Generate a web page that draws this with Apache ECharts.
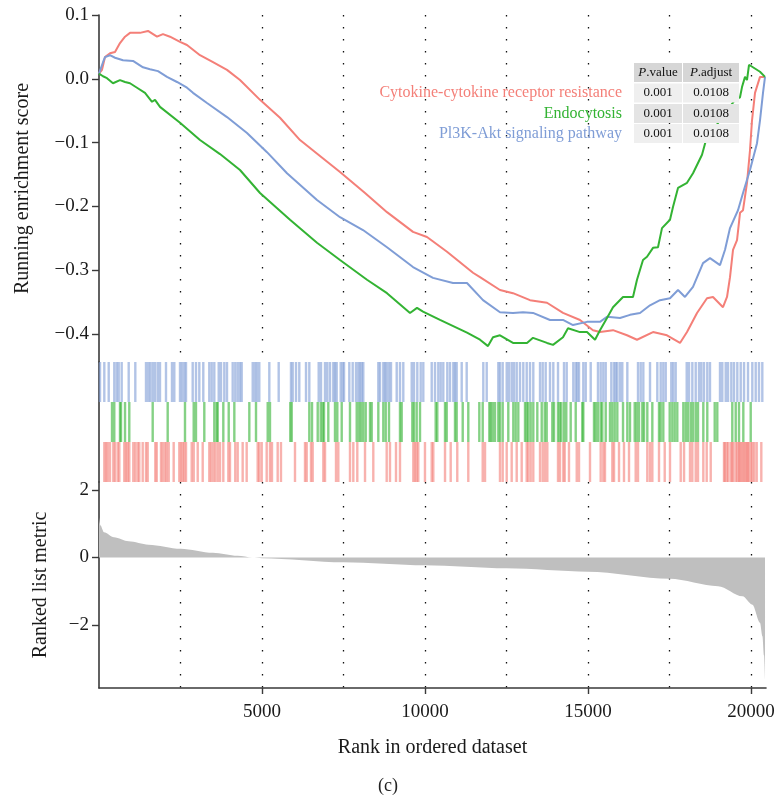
<!DOCTYPE html>
<html>
<head>
<meta charset="utf-8">
<script src="https://cdn.jsdelivr.net/npm/echarts@6/dist/echarts.min.js"></script>
<style>
html,body{margin:0;padding:0;background:#fff;}
#chart{width:775px;height:797px;}
</style>
</head>
<body>
<div id="chart"></div>
<script>
// ---------- data ----------
const setNames = ['Cytokine-cytokine receptor resistance', 'Endocytosis', 'Pl3K-Akt signaling pathway'];
const pValues = ['0.001', '0.001', '0.001'];
const pAdjust = ['0.0108', '0.0108', '0.0108'];
const xTickLabels = [5000, 10000, 15000, 20000];
const esTicks = [-0.4, -0.3, -0.2, -0.1, 0, 0.1];
const metricTicks = [-2, 0, 2];

const esRed = [[0,0.008],[92,0.014],[184,0.034],[337,0.040],[491,0.042],[644,0.056],[798,0.066],[951,0.072],[1258,0.072],[1503,0.075],[1779,0.066],[1963,0.070],[2178,0.066],[2485,0.058],[2699,0.053],[3098,0.037],[3497,0.026],[3926,0.014],[4325,-0.002],[4939,-0.033],[5552,-0.061],[6166,-0.096],[6779,-0.121],[7393,-0.146],[8160,-0.179],[8834,-0.209],[9632,-0.240],[10061,-0.248],[10675,-0.271],[11472,-0.304],[11687,-0.311],[12300,-0.331],[12699,-0.336],[13221,-0.347],[13742,-0.351],[14233,-0.367],[14755,-0.378],[15153,-0.394],[15368,-0.397],[15767,-0.394],[16196,-0.402],[16503,-0.409],[16994,-0.397],[17423,-0.402],[17822,-0.414],[18037,-0.397],[18344,-0.367],[18650,-0.344],[18834,-0.342],[19141,-0.358],[19264,-0.342],[19356,-0.311],[19448,-0.268],[19571,-0.253],[19663,-0.210],[19755,-0.206],[19877,-0.163],[19969,-0.112],[20031,-0.065],[20123,-0.022],[20276,0.003],[20430,0.003]];

const esBlue = [[0,0.008],[123,0.026],[184,0.034],[337,0.037],[491,0.033],[736,0.029],[1043,0.028],[1350,0.018],[1564,0.015],[1810,0.012],[2086,0.003],[2393,-0.005],[2699,-0.014],[2883,-0.022],[3313,-0.038],[3926,-0.060],[4540,-0.085],[5153,-0.115],[5767,-0.148],[6687,-0.190],[7393,-0.217],[8098,-0.237],[8834,-0.264],[9632,-0.295],[10245,-0.312],[10859,-0.320],[11288,-0.320],[11779,-0.347],[12300,-0.366],[12699,-0.367],[13006,-0.366],[13313,-0.367],[13834,-0.378],[14233,-0.378],[14540,-0.386],[14969,-0.381],[15368,-0.381],[15583,-0.373],[15982,-0.375],[16288,-0.370],[16595,-0.367],[16902,-0.355],[17209,-0.347],[17515,-0.344],[17761,-0.331],[17975,-0.342],[18221,-0.326],[18528,-0.289],[18742,-0.281],[19049,-0.292],[19203,-0.268],[19356,-0.234],[19601,-0.206],[19755,-0.179],[19969,-0.143],[20184,-0.101],[20276,-0.065],[20368,-0.022],[20430,0.003]];

const esGreen = [[0,0.008],[123,0.004],[245,0.001],[429,-0.007],[644,-0.002],[798,-0.005],[951,-0.007],[1166,-0.014],[1411,-0.022],[1626,-0.036],[1718,-0.033],[1871,-0.044],[2485,-0.069],[3098,-0.096],[3712,-0.118],[4325,-0.143],[4939,-0.179],[5859,-0.221],[6687,-0.257],[7393,-0.284],[8221,-0.315],[8834,-0.336],[9540,-0.367],[9755,-0.359],[9939,-0.365],[10460,-0.378],[11288,-0.398],[11687,-0.409],[11932,-0.419],[12086,-0.405],[12300,-0.402],[12699,-0.414],[13129,-0.414],[13313,-0.406],[13742,-0.414],[13926,-0.417],[14233,-0.405],[14387,-0.391],[14755,-0.397],[14969,-0.397],[15215,-0.409],[15368,-0.394],[15583,-0.375],[15767,-0.358],[16074,-0.342],[16380,-0.342],[16503,-0.315],[16687,-0.284],[16810,-0.279],[16994,-0.265],[17147,-0.264],[17270,-0.234],[17515,-0.221],[17607,-0.201],[17761,-0.171],[18037,-0.163],[18221,-0.148],[18497,-0.119],[18620,-0.096],[19049,-0.065],[19509,-0.033],[19663,-0.029],[19724,-0.013],[19816,0.003],[19877,-0.002],[19939,0.022],[20000,0.025],[20276,0.011],[20430,0.003]];

const hitsBlue = [31,163,298,469,543,604,696,911,1114,1442,1512,1574,1647,1718,1801,1871,2055,2239,2310,2485,2546,2617,2669,2874,2975,3077,3199,3383,3457,3537,3672,3742,3844,3926,4101,4180,4254,4325,4377,4715,4785,4847,4917,5224,5512,5889,5942,6043,6144,6350,6451,6739,6810,6933,7003,7086,7187,7239,7291,7414,7475,7516,7678,7782,7883,7954,8006,8058,8107,8568,8620,8721,8773,8825,8896,8957,9132,9233,9334,9592,9662,9764,9868,9948,10206,10307,10408,10482,10561,10684,10767,10868,10920,10972,11126,11279,11788,11893,12249,12300,12383,12506,12576,12659,12730,12813,12914,13015,13120,13221,13322,13528,13610,13702,13834,13936,14080,14264,14347,14549,14623,14672,14724,14856,14930,15083,15306,15389,15469,15543,15715,15798,15850,15899,15982,16052,16206,16534,16617,16697,16902,17126,17230,17310,17384,17555,17617,17690,18028,18098,18200,18304,18405,18476,18558,18659,18742,19049,19120,19224,19295,19396,19479,19580,19684,19786,19908,20040,20144,20245,20347];

const hitsGreen = [399,469,644,675,798,929,1647,2107,2638,2905,2975,3230,3537,3610,3641,3813,3979,4151,4611,4816,5175,5245,5868,5911,6451,6534,6709,6801,6862,6902,7034,7239,7310,7445,7699,7905,7976,8037,8107,8181,8313,8365,8568,8721,8795,8896,9233,9285,9611,9662,9745,9847,10328,10377,10614,10666,10920,10972,11157,11328,11666,11770,11973,12016,12077,12147,12249,12300,12383,12555,12709,12782,12862,13068,13120,13169,13242,13322,13445,13580,13672,13733,13905,13957,14080,14132,14181,14264,14334,14469,14623,14825,14856,15184,15236,15306,15389,15438,15543,15675,15746,15819,15899,16074,16206,16288,16433,16494,16564,16666,16718,16819,16973,17178,17230,17310,17506,17586,17660,17739,17924,17997,18068,18151,18221,18304,18374,18537,18659,18887,18966,19426,19531,19632,19764,19991];

const hitsRed = [163,215,267,337,439,491,574,623,776,828,880,929,1052,1114,1187,1236,1341,1442,1494,1727,1770,1902,1954,2024,2076,2138,2291,2463,2515,2567,2617,2669,2843,2905,3028,3181,3383,3435,3506,3568,3641,3712,3813,3967,4018,4180,4254,4407,4530,4868,4917,4991,5144,5245,5306,5481,5582,6012,6319,6371,6503,6555,6881,6933,7270,7341,7699,7801,7923,8160,8414,8825,8926,9110,9233,9641,9693,9745,9794,9999,10206,10255,10614,10788,10990,11328,11770,11841,12300,12383,12506,12659,12813,12966,13120,13169,13242,13322,13528,13610,13681,13752,14080,14141,14243,14285,14417,14654,14724,15061,15389,15469,15521,15746,15798,15951,16104,16258,16463,16534,16819,16902,16973,17178,17353,17515,17844,17946,18129,18200,18304,18374,18537,18641,18764,19172,19200,19255,19300,19377,19420,19457,19531,19580,19632,19650,19703,19740,19786,19830,19868,19900,19939,20000,20040,20100,20175,20316];

const metricRank = [0,46,153,460,911,1518,2506,3494,4252,4700,5000,7500,10000,12500,15000,17500,18990,19740,20045,20275,20350,20400,20430];
const metricValue = [1.19,0.95,0.75,0.60,0.48,0.38,0.26,0.14,0.05,0,-0.02,-0.14,-0.23,-0.32,-0.42,-0.63,-0.85,-1.15,-1.40,-1.93,-2.33,-2.90,-3.60];

// ---------- styles ----------
const colors = ['#f47f78', '#33b333', '#7f9dd6'];
const FONT = '"Liberation Serif", "DejaVu Serif", serif';
const XMAX = 20460;
const axisCol = '#3a3a3a';
const fmtMinus = v => String(v).replace('-', '\u2212');

const chart = echarts.init(document.getElementById('chart'), null, {renderer: 'canvas'});

const dotted = {show: true, showMinLine: false, showMaxLine: false,
  lineStyle: {type: [1.4, 10.6], color: '#111', width: 1.3}};
const hiddenParts = {axisLine: {show: false}, axisTick: {show: false}, axisLabel: {show: false}};

function rugSeries(hits, row, color) {
  return {
    type: 'custom', xAxisIndex: 1, yAxisIndex: 1, silent: true,
    data: hits.map(r => [r, row]),
    renderItem: function (params, api) {
      const x = api.value(0), rw = api.value(1);
      const top = api.coord([x, rw + 1]);
      const bot = api.coord([x, rw]);
      return {type: 'rect', shape: {x: top[0] - 1.2, y: top[1], width: 2.4, height: bot[1] - top[1]},
        style: {fill: color, opacity: 0.6}};
    }
  };
}

const rowsY = [93, 113.5, 133.5];
const graphics = [];
setNames.forEach((n, i) => {
  graphics.push({type: 'text', x: 622, y: rowsY[i], z: 100,
    style: {text: n, fill: colors[i], font: '16px ' + FONT, textAlign: 'right', textVerticalAlign: 'middle'}});
});
const col1 = [634, 48], col2 = [683, 56];
const rowBg = ['#efefef', '#e4e4e4', '#efefef'];
[[63, '#d6d6d6']].concat(rowsY.map((y, i) => [y - 9.5, rowBg[i]])).forEach(([y, f]) => {
  graphics.push({type: 'rect', z: 99, shape: {x: col1[0], y: y, width: col1[1], height: 19}, style: {fill: f}});
  graphics.push({type: 'rect', z: 99, shape: {x: col2[0], y: y, width: col2[1], height: 19}, style: {fill: f}});
});
['{i|P}.value', '{i|P}.adjust'].forEach((t, k) => {
  const c = k === 0 ? col1 : col2;
  graphics.push({type: 'text', z: 100, x: c[0] + c[1] / 2, y: 73,
    style: {text: t, textAlign: 'center', textVerticalAlign: 'middle', font: '13px ' + FONT, fill: '#111',
      rich: {i: {fontStyle: 'italic', fontFamily: FONT, fontSize: 13, fill: '#111'}}}});
});
rowsY.forEach((y, i) => {
  graphics.push({type: 'text', z: 100, x: col1[0] + col1[1] / 2, y: y,
    style: {text: pValues[i], textAlign: 'center', textVerticalAlign: 'middle', font: '13px ' + FONT, fill: '#111'}});
  graphics.push({type: 'text', z: 100, x: col2[0] + col2[1] / 2, y: y,
    style: {text: pAdjust[i], textAlign: 'center', textVerticalAlign: 'middle', font: '13px ' + FONT, fill: '#111'}});
});
graphics.push({type: 'text', z: 100, x: 388, y: 786,
  style: {text: '(c)', textAlign: 'center', textVerticalAlign: 'middle', font: '18px ' + FONT, fill: '#222'}});

const gridBase = {left: 99, width: 667, outerBoundsMode: 'none', containLabel: false};

const option = {
  animation: false,
  backgroundColor: '#fff',
  textStyle: {fontFamily: FONT},
  grid: [
    Object.assign({top: 15, height: 347}, gridBase),
    Object.assign({top: 362, height: 120}, gridBase),
    Object.assign({top: 482, height: 206}, gridBase)
  ],
  xAxis: [
    Object.assign({gridIndex: 0, type: 'value', min: 0, max: XMAX, interval: 2500, splitLine: dotted}, hiddenParts),
    Object.assign({gridIndex: 1, type: 'value', min: 0, max: XMAX, interval: 2500, splitLine: {show: false}}, hiddenParts),
    {gridIndex: 2, type: 'value', min: 0, max: XMAX, position: 'bottom',
      axisLine: {show: true, onZero: false, lineStyle: {color: axisCol, width: 1.6}},
      axisTick: {show: true, customValues: xTickLabels, length: 6, lineStyle: {color: axisCol, width: 1.4}},
      axisLabel: {show: true, customValues: xTickLabels, margin: 15, fontSize: 19, color: '#1a1a1a', fontFamily: FONT,
        formatter: v => String(v)},
      splitLine: {show: false},
      name: 'Rank in ordered dataset', nameLocation: 'middle', nameGap: 50,
      nameTextStyle: {fontSize: 20, color: '#1a1a1a', fontFamily: FONT}},
    Object.assign({gridIndex: 2, type: 'value', min: 0, max: XMAX, interval: 2500, position: 'top',
      splitLine: dotted}, hiddenParts)
  ],
  yAxis: [
    {gridIndex: 0, type: 'value', min: -0.4439, max: 0.1,
      axisLine: {show: true, lineStyle: {color: axisCol, width: 1.6}},
      axisTick: {show: true, customValues: esTicks, length: 7, lineStyle: {color: axisCol, width: 1.4}},
      axisLabel: {show: true, customValues: esTicks, margin: 10, fontSize: 19, color: '#1a1a1a', fontFamily: FONT,
        formatter: v => fmtMinus((Math.round(v * 10) / 10).toFixed(1))},
      splitLine: {show: false},
      name: 'Running enrichment score', nameLocation: 'middle', nameGap: 66,
      nameTextStyle: {fontSize: 20, color: '#1a1a1a', fontFamily: FONT}},
    {gridIndex: 1, type: 'value', min: 0, max: 3,
      axisLine: {show: true, lineStyle: {color: axisCol, width: 1.6}},
      axisTick: {show: false}, axisLabel: {show: false}, splitLine: {show: false}},
    {gridIndex: 2, type: 'value', min: -3.867, max: 2.237,
      axisLine: {show: true, lineStyle: {color: axisCol, width: 1.6}},
      axisTick: {show: true, customValues: metricTicks, length: 7, lineStyle: {color: axisCol, width: 1.4}},
      axisLabel: {show: true, customValues: metricTicks, margin: 10, fontSize: 19, color: '#1a1a1a', fontFamily: FONT,
        formatter: v => fmtMinus(Math.round(v))},
      splitLine: {show: false},
      name: 'Ranked list metric', nameLocation: 'middle', nameGap: 48,
      nameTextStyle: {fontSize: 20, color: '#1a1a1a', fontFamily: FONT}}
  ],
  graphic: graphics,
  series: [
    {type: 'line', xAxisIndex: 0, yAxisIndex: 0, data: esRed, showSymbol: false, z: 3,
      lineStyle: {color: colors[0], width: 2}, itemStyle: {color: colors[0]}},
    {type: 'line', xAxisIndex: 0, yAxisIndex: 0, data: esBlue, showSymbol: false, z: 3,
      lineStyle: {color: colors[2], width: 2}, itemStyle: {color: colors[2]}},
    {type: 'line', xAxisIndex: 0, yAxisIndex: 0, data: esGreen, showSymbol: false, z: 4,
      lineStyle: {color: colors[1], width: 2}, itemStyle: {color: colors[1]}},
    rugSeries(hitsBlue, 2, colors[2]),
    rugSeries(hitsGreen, 1, colors[1]),
    rugSeries(hitsRed, 0, colors[0]),
    {type: 'line', xAxisIndex: 2, yAxisIndex: 2, showSymbol: false, smooth: 0.3, smoothMonotone: 'x',
      data: metricRank.map((r, i) => [r, metricValue[i]]),
      lineStyle: {width: 0}, itemStyle: {color: '#bfbfbf'},
      areaStyle: {color: '#bfbfbf', opacity: 1, origin: 0}}
  ]
};
chart.setOption(option);
</script>
</body>
</html>
